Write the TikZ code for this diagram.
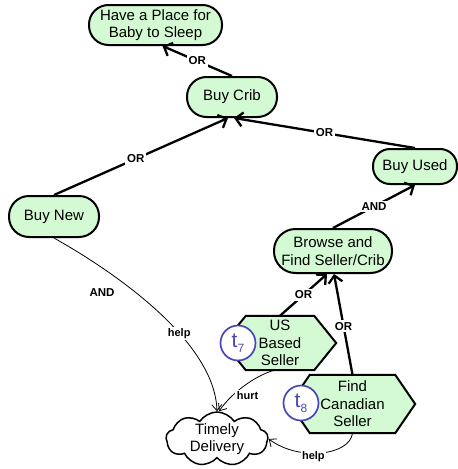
\documentclass[tikz,border=0pt]{standalone}
\usepackage{fontspec}
\setmainfont{Liberation Sans}
\usetikzlibrary{shapes.symbols,arrows.meta,calc}
\definecolor{goalfill}{RGB}{212,250,212}
\definecolor{tblue}{RGB}{72,72,184}
\pgfdeclarelayer{background}
\pgfsetlayers{background,main}
\newcommand\tagtext[1]{t\raisebox{-5pt}{\fontsize{12}{12}\selectfont #1}}

\begin{document}
\begin{tikzpicture}[x=1pt,y=-1pt,
  every node/.style={font=\fontsize{15}{17.5}\selectfont, align=center},
  goalbox/.style={rectangle, rounded corners=#1, draw, line width=2pt, fill=goalfill, inner sep=0pt},
  goalbox/.default=19pt,
  taskbox/.style={rectangle, inner sep=0pt},
  hexfill/.style={draw, line width=2pt, fill=goalfill, line join=miter},
  softgoal/.style={cloud, cloud puffs=9, cloud puff arc=115, aspect=2, draw, line width=1.5pt,
    fill=white, inner xsep=-8pt, inner ysep=-3pt},
  tagcirc/.style={circle, draw=tblue, line width=1.7pt, fill=white, text=tblue, minimum size=35pt,
    inner sep=0pt, font=\fontsize{21}{21}\selectfont},
  refine/.style={line width=2.3pt, -{Straight Barb[length=7pt,width=14pt]}},
  contrib/.style={line width=0.8pt, -{Straight Barb[length=6pt,width=10pt]}},
  lbl/.style={font=\fontsize{11.5}{12}\selectfont\bfseries, fill=white, inner sep=2pt},
  clbl/.style={font=\fontsize{11}{12}\selectfont\bfseries, fill=white, inner sep=1.5pt},
]
\useasboundingbox (0,0) rectangle (458,469);

% goals
\node[goalbox=19.5pt, minimum width=133pt, minimum height=40pt] (place) at (155.5,25) {Have a Place for\\Baby to Sleep};
\node[goalbox=19.5pt, minimum width=90pt, minimum height=40pt] (crib) at (232,97) {Buy Crib};
\node[goalbox=17pt, minimum width=84pt, minimum height=35pt] (used) at (415,166.5) {Buy Used};
\node[goalbox=20pt, minimum width=90pt, minimum height=41pt] (buynew) at (54,216.5) {Buy New};
\node[goalbox=21.5pt, minimum width=118pt, minimum height=44pt] (browse) at (333,251) {Browse and\\Find Seller/Crib};

% tasks
\node[taskbox, minimum width=112pt, minimum height=54pt] (us) at (280,343) {US\\Based\\Seller};
\node[taskbox, minimum width=125pt, minimum height=58pt] (can) at (352.5,404) {Find\\Canadian\\Seller};
\begin{pgfonlayer}{background}
  \draw[hexfill] (us.west) -- ([xshift=22pt]us.north west) -- ([xshift=-22pt]us.north east)
    -- (us.east) -- ([xshift=-22pt]us.south east) -- ([xshift=22pt]us.south west) -- cycle;
  \draw[hexfill] (can.west) -- ([xshift=20pt]can.north west) -- ([xshift=-20pt]can.north east)
    -- (can.east) -- ([xshift=-20pt]can.south east) -- ([xshift=20pt]can.south west) -- cycle;
\end{pgfonlayer}
\node[tagcirc] (t7) at (238,343) {\tagtext{7}};
\node[tagcirc] (t8) at (301,403) {\tagtext{8}};

% softgoal
\node[softgoal, minimum width=102pt, minimum height=54pt] (td) at (217,439) {Timely\\Delivery};

% refinement links
\draw[refine] (crib.north) -- node[lbl]{OR} ([xshift=7pt]place.south);
\draw[refine] (buynew.north) -- node[lbl, pos=0.47]{OR} ([xshift=-4pt]crib.south);
\draw[refine] (used.north) -- node[lbl]{OR} ([xshift=2pt]crib.south);
\draw[refine] (browse.north) -- node[lbl]{AND} (used.south);
\draw[refine] (us.north) -- node[lbl]{OR} ([xshift=-6pt]browse.south);
\draw[refine] (can.north) -- node[lbl, pos=0.48]{OR} ([xshift=1pt]browse.south);

% contribution links
\node[lbl, fill=none] (andlbl) at (102,293) {AND};
\draw[contrib] (buynew.south) .. controls (125,278) and (215,345) .. node[clbl, pos=0.6]{help} (td.north);
\draw[contrib] ([xshift=-5pt]us.south) .. controls (258,374) and (232,392) .. node[clbl, pos=0.5, shift={(2,11)}]{hurt} ([xshift=2pt]td.north);
\draw[contrib] (can.south) .. controls (350,455) and (300,462) .. node[clbl, pos=0.5, shift={(-8,4)}]{help} (td.east);
\end{tikzpicture}
\end{document}
